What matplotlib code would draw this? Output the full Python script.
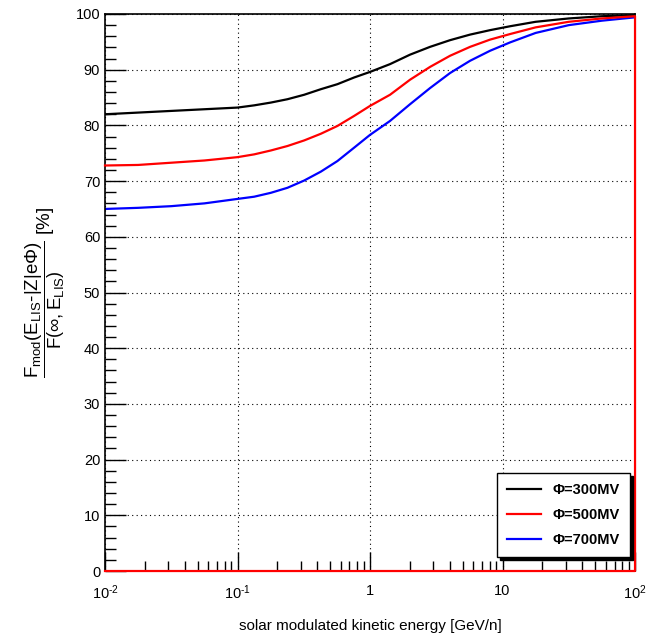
import matplotlib.pyplot as plt
from matplotlib.ticker import FixedLocator, FixedFormatter, LogLocator, NullFormatter, MultipleLocator

plt.rcParams['font.family'] = ['Liberation Sans', 'DejaVu Sans']
plt.rcParams['mathtext.fontset'] = 'custom'
plt.rcParams['mathtext.rm'] = 'Liberation Sans'
plt.rcParams['mathtext.it'] = 'Liberation Sans'
plt.rcParams['mathtext.bf'] = 'Liberation Sans:bold'
plt.rcParams['mathtext.default'] = 'regular'

# energy in GeV/n (log10 values)
log_e = [-2.0, -1.75, -1.5, -1.25, -1.0, -0.874, -0.748, -0.623, -0.497, -0.371,
         -0.246, -0.12, 0.0, 0.151, 0.302, 0.453, 0.604, 0.755, 0.906, 1.057,
         1.25, 1.5, 1.75, 2.0]
energy = [10 ** v for v in log_e]

phi300 = [82.0, 82.3, 82.6, 82.9, 83.2, 83.6, 84.1, 84.7, 85.5, 86.5, 87.4, 88.6,
          89.6, 91.0, 92.7, 94.1, 95.3, 96.3, 97.1, 97.8, 98.6, 99.2, 99.6, 99.8]
phi500 = [72.8, 72.9, 73.3, 73.7, 74.3, 74.8, 75.5, 76.3, 77.3, 78.5, 79.9, 81.7,
          83.5, 85.5, 88.2, 90.5, 92.5, 94.1, 95.4, 96.4, 97.6, 98.6, 99.2, 99.6]
phi700 = [65.0, 65.2, 65.5, 66.0, 66.8, 67.2, 67.9, 68.8, 70.1, 71.7, 73.6, 76.0,
          78.3, 80.8, 83.8, 86.7, 89.4, 91.6, 93.4, 94.9, 96.6, 98.0, 98.8, 99.4]

labels = ['Φ=300MV', 'Φ=500MV', 'Φ=700MV']
colors = ['black', 'red', 'blue']

fig = plt.figure(figsize=(6.47, 6.39), dpi=100)
ax = fig.add_axes([0.1623, 0.1064, 0.8192, 0.8717])

ax.plot(energy, phi300, color=colors[0], lw=1.6, label=labels[0], solid_joinstyle='round')
# red graph is closed down to zero at the ends
ax.plot(energy + [100, 0.01], phi500 + [0, 0], color=colors[1], lw=1.6,
        label=labels[1], clip_on=False, zorder=3, solid_joinstyle='round')
ax.plot(energy, phi700, color=colors[2], lw=1.6, label=labels[2], solid_joinstyle='round')

ax.set_xscale('log')
ax.set_xlim(0.01, 100)
ax.set_ylim(0, 100)

ax.xaxis.set_major_locator(FixedLocator([0.01, 0.1, 1, 10, 100]))
ax.xaxis.set_major_formatter(FixedFormatter([r'$10^{\text{-}2}$', r'$10^{\text{-}1}$',
                                             '1', '10', r'$10^{2}$']))
ax.xaxis.set_minor_locator(LogLocator(base=10, subs=range(2, 10)))
ax.xaxis.set_minor_formatter(NullFormatter())
ax.yaxis.set_major_locator(MultipleLocator(10))
ax.yaxis.set_minor_locator(MultipleLocator(2))

ax.tick_params(which='both', direction='in', top=False, right=False, labelsize=10.5, width=1)
ax.tick_params(axis='y', which='major', length=15)
ax.tick_params(axis='y', which='minor', length=8)
ax.tick_params(axis='x', which='major', length=14, pad=9)
ax.tick_params(axis='x', which='minor', length=7)

ax.grid(True, which='major', color='black', linestyle=(0, (1, 3)), lw=0.8)
for s in ax.spines.values():
    s.set_linewidth(1.2)

ax.set_xlabel('solar modulated kinetic energy [GeV/n]', fontsize=11, labelpad=12)
ax.set_ylabel(r'$\dfrac{F_{mod}\left(E_{LIS}\text{-}|Z|e\Phi\right)}{F\left(\infty,E_{LIS}\right)}$ [%]',
              fontsize=13.5, labelpad=6)

leg = ax.legend(loc='lower right', bbox_to_anchor=(0.9906, 0.025), borderaxespad=0,
                frameon=True, fancybox=False, shadow={'color': 'black', 'alpha': 1},
                edgecolor='black', framealpha=1,
                prop={'weight': 'bold', 'size': 10.5}, handlelength=2.3,
                labelspacing=0.75, borderpad=0.7)
leg.get_frame().set_linewidth(1.0)

fig.savefig('out.png', dpi=100)
